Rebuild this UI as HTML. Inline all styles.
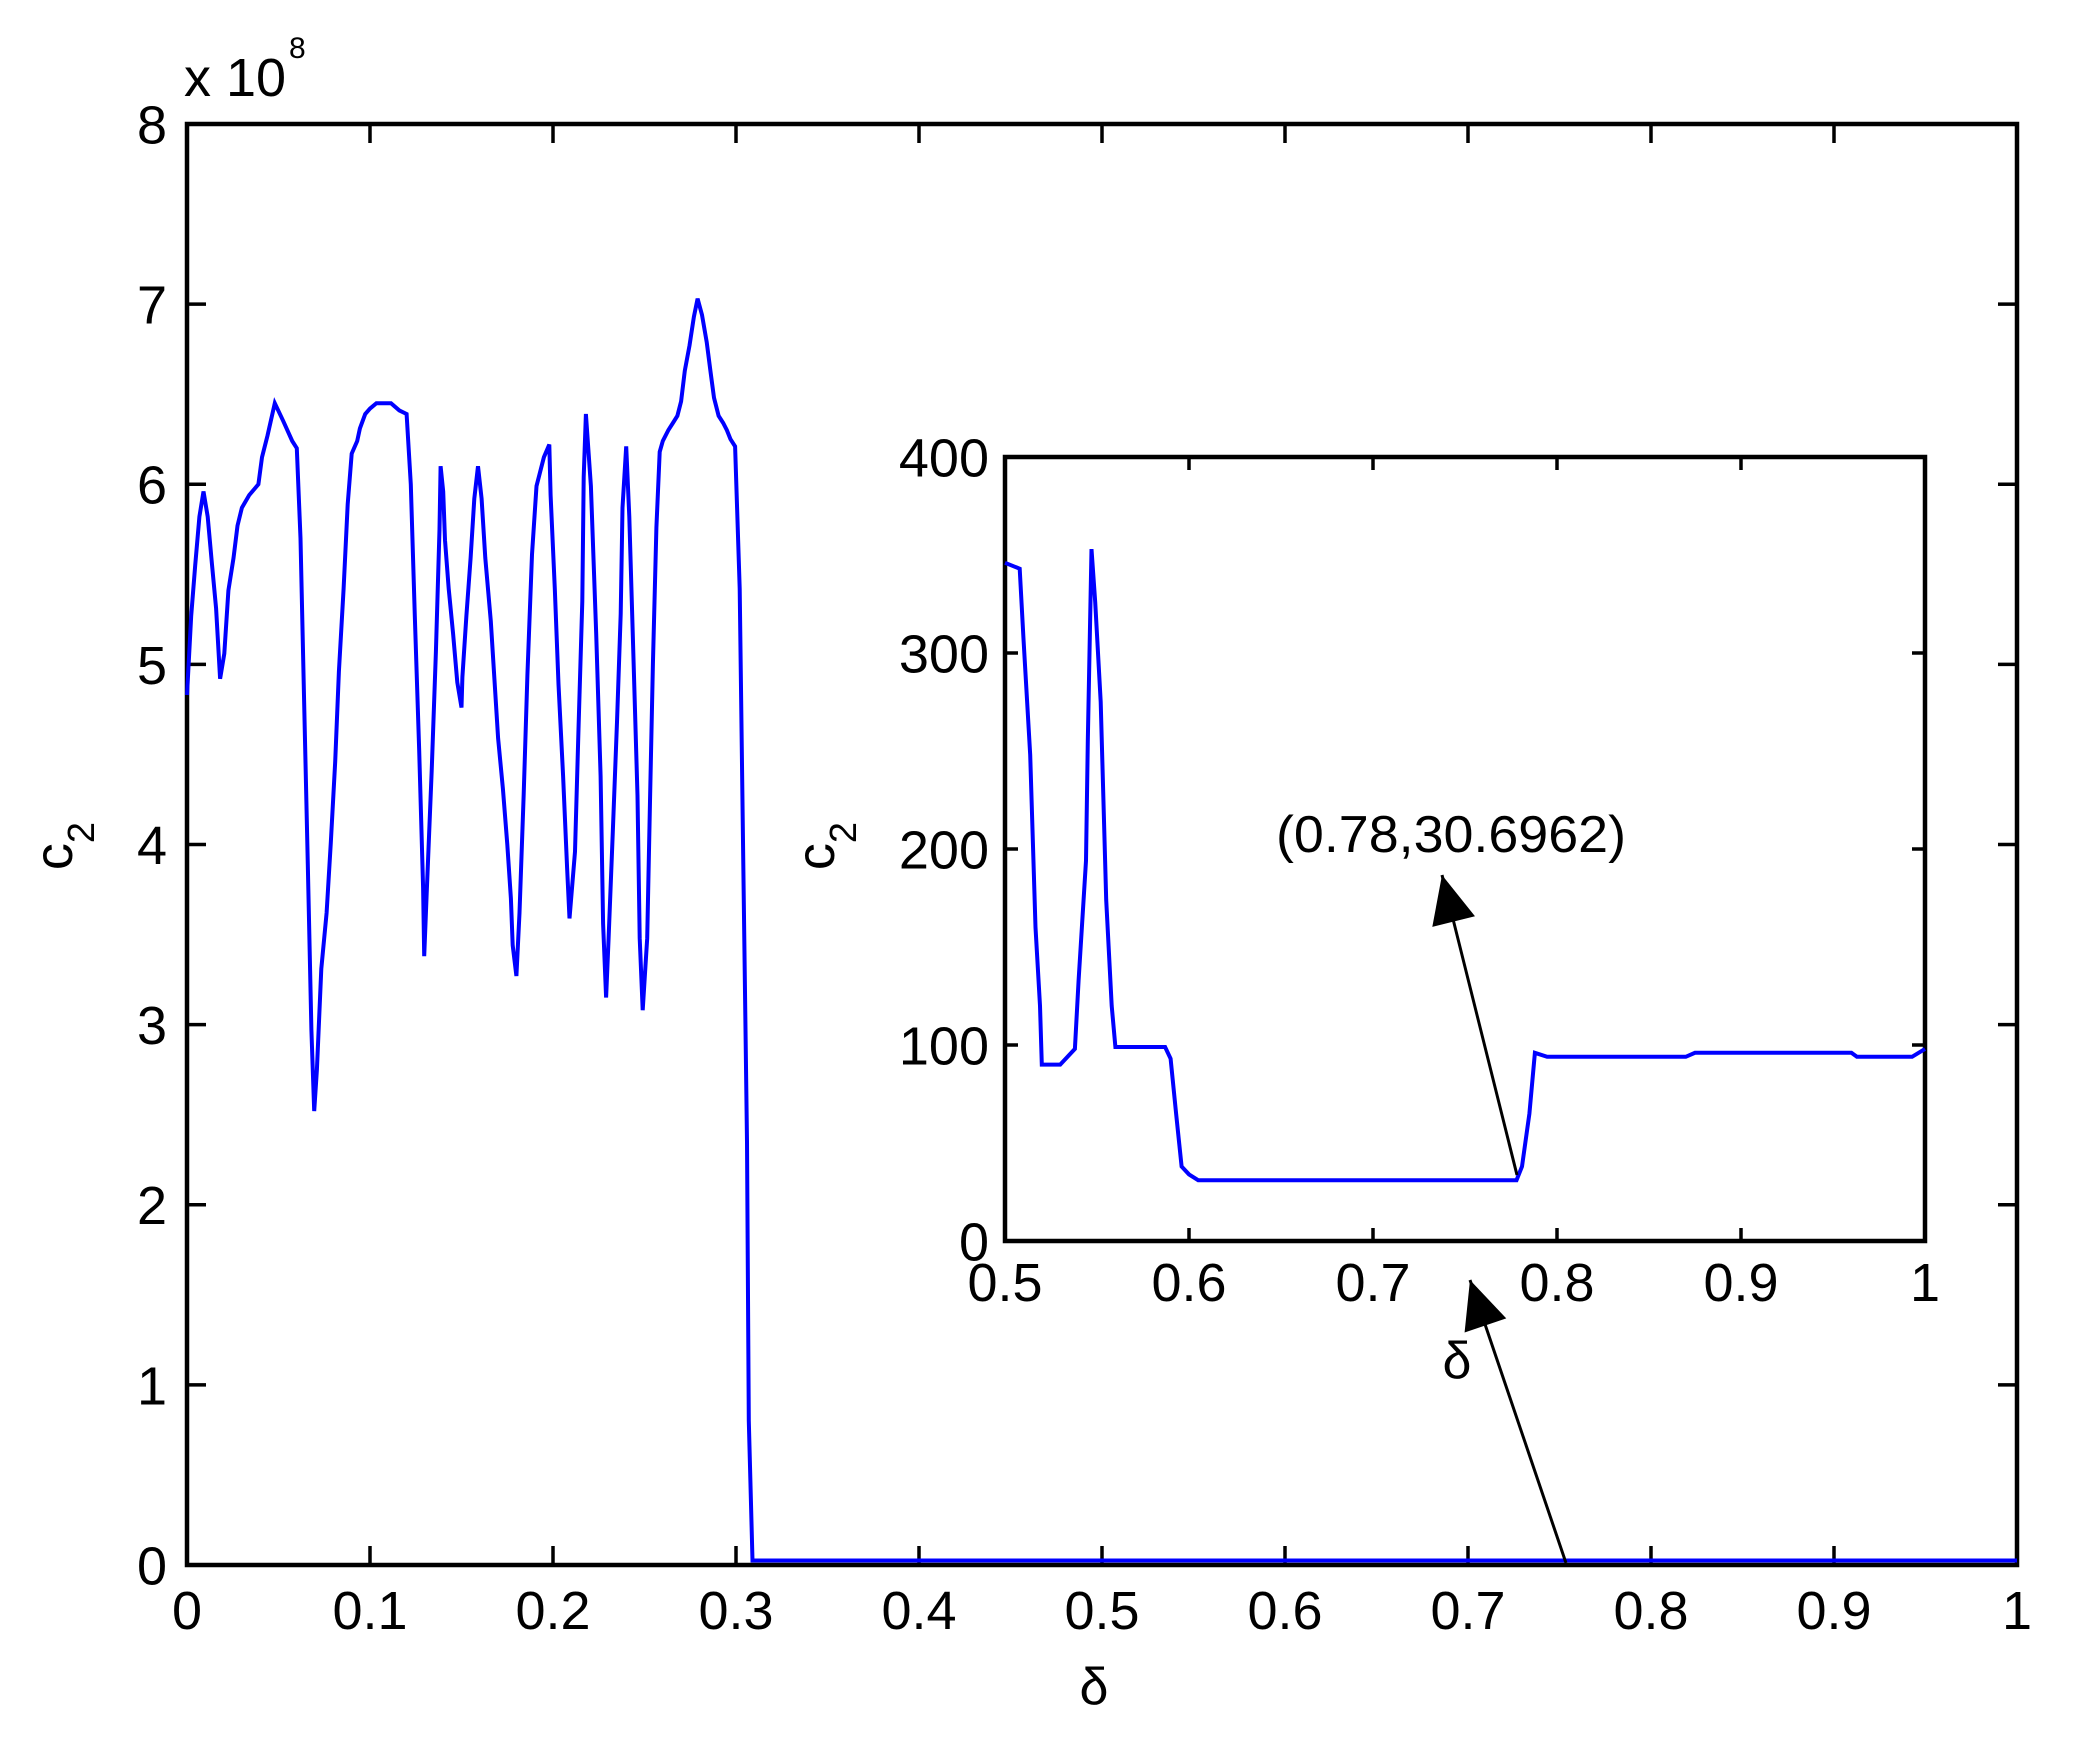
<!DOCTYPE html>
<html><head><meta charset="utf-8"><style>
html,body{margin:0;padding:0;background:#fff;}
svg{display:block;}
text{font-family:"Liberation Sans",Arial,sans-serif;fill:#000;}
</style></head><body>
<svg id="chart" width="2077" height="1764" viewBox="0 0 2077 1764" xmlns="http://www.w3.org/2000/svg">
<rect x="0" y="0" width="2077" height="1764" fill="#fff"/>
<g id="main"></g>
<g id="inset"></g>
<g id="annot"></g>
</svg>
<script>
// ---- main series (delta, c2 in units of 1e8) ----
const mainX = [0,.0023,.0045,.0068,.009,.0113,.0136,.0159,.0181,.0204,.0226,.0254,.0276,.03,.034,.039,.041,.044,.048,.0526,.0575,.06,.062,.064,.066,.068,.0695,.071,.0734,.0763,.0786,.081,.083,.0856,.0878,.09,.093,.0945,.0974,.1,.1035,.1115,.116,.12,.1223,.1245,.1269,.129,.1296,.131,.1337,.136,.138,.1386,.14,.141,.143,.1454,.1477,.15,.1505,.1527,.155,.157,.159,.161,.163,.166,.168,.170,.1726,.175,.177,.178,.18,.1817,.184,.186,.1885,.191,.193,.195,.198,.1987,.201,.203,.2055,.2077,.209,.212,.214,.216,.2168,.218,.2207,.2236,.226,.2274,.229,.2304,.2327,.235,.237,.238,.24,.2417,.244,.2462,.2474,.249,.2515,.253,.2546,.2565,.2583,.26,.263,.2655,.268,.27,.272,.2746,.277,.279,.2814,.284,.286,.288,.2905,.293,.295,.297,.2995,.302,.304,.306,.307,.309,.31,1];
const mainY = [4.83,5.27,5.55,5.82,5.96,5.82,5.56,5.31,4.92,5.06,5.41,5.59,5.77,5.87,5.94,6.0,6.15,6.27,6.45,6.35,6.24,6.2,5.70,4.80,3.89,2.97,2.52,2.75,3.31,3.62,4.01,4.46,4.96,5.42,5.89,6.17,6.24,6.31,6.39,6.42,6.45,6.45,6.41,6.39,6.0,5.27,4.52,3.76,3.38,3.73,4.41,5.07,5.75,6.1,5.96,5.69,5.42,5.17,4.90,4.76,4.93,5.27,5.59,5.92,6.1,5.92,5.59,5.24,4.92,4.59,4.31,4.0,3.70,3.44,3.27,3.62,4.28,4.94,5.61,5.99,6.07,6.15,6.22,5.94,5.42,4.89,4.38,3.87,3.59,3.96,4.66,5.35,6.04,6.39,5.99,5.17,4.38,3.56,3.15,3.48,4.07,4.68,5.28,5.87,6.21,5.82,5.03,4.27,3.48,3.08,3.48,4.24,5.0,5.76,6.18,6.24,6.30,6.34,6.38,6.46,6.63,6.77,6.93,7.03,6.94,6.79,6.63,6.48,6.38,6.34,6.30,6.25,6.21,5.42,3.89,2.35,0.8,0.025,0.025,0.025];
const mainXTicks = [0,0.1,0.2,0.3,0.4,0.5,0.6,0.7,0.8,0.9,1];
const mainXLabels = ["0","0.1","0.2","0.3","0.4","0.5","0.6","0.7","0.8","0.9","1"];
const mainYTicks = [0,1,2,3,4,5,6,7,8];
const mainYLabels = ["0","1","2","3","4","5","6","7","8"];
// ---- inset series ----
const insX = [.5,.508,.51,.5137,.5166,.519,.52,.53,.538,.54,.544,.545,.547,.549,.552,.555,.558,.56,.587,.59,.593,.596,.6,.605,.778,.781,.785,.788,.7946,.87,.875,.96,.963,.993,1];
const insY = [346,343,308,248,160,120,90,90,98,133,194,255,353,326,275,174,120,99,99,93,65,38,34,31,31,38,65,96,94,94,96,96,94,94,98];
const insXTicks = [0.5,0.6,0.7,0.8,0.9,1];
const insXLabels = ["0.5","0.6","0.7","0.8","0.9","1"];
const insYTicks = [0,100,200,300,400];
const insYLabels = ["0","100","200","300","400"];

const NS="http://www.w3.org/2000/svg";
function mk(parent,tag,attrs,txt){const e=document.createElementNS(NS,tag);for(const k in attrs)e.setAttribute(k,attrs[k]);if(txt!==undefined)e.textContent=txt;parent.appendChild(e);return e;}

function drawAxes(g, box, xd, yd, xt, xl, yt, yl, tickLen, fs, prefix, xs, ys){
  const sx=v=>box.l+(v-xd[0])/(xd[1]-xd[0])*(box.r-box.l);
  const sy=v=>box.b-(v-yd[0])/(yd[1]-yd[0])*(box.b-box.t);
  const fr=mk(g,'rect',{x:box.l,y:box.t,width:box.r-box.l,height:box.b-box.t,fill:'#fff',stroke:'#000','stroke-width':4.5});
  
  
  xt.forEach((v,i)=>{
    const x=sx(v);
    const t1=mk(g,'line',{x1:x,y1:box.b,x2:x,y2:box.b-tickLen,stroke:'#000','stroke-width':3.5});
    
    
    mk(g,'line',{x1:x,y1:box.t,x2:x,y2:box.t+tickLen,stroke:'#000','stroke-width':3.5});
    const tx=mk(g,'text',{x:x,y:box.b+xs,'font-size':fs,'text-anchor':'middle'},xl[i]);
    
    
  });
  yt.forEach((v,i)=>{
    const y=sy(v);
    const t1=mk(g,'line',{x1:box.l,y1:y,x2:box.l+tickLen,y2:y,stroke:'#000','stroke-width':3.5});
    
    
    mk(g,'line',{x1:box.r,y1:y,x2:box.r-tickLen,y2:y,stroke:'#000','stroke-width':3.5});
    const tx=mk(g,'text',{x:box.l-ys,y:y+fs*0.36,'font-size':fs,'text-anchor':'end'},yl[i]);
    
    
  });
  return {sx,sy};
}

// main
const gm=document.getElementById('main');
const mb={l:187,r:2017,t:124,b:1565};
const m=drawAxes(gm,mb,[0,1],[0,8],mainXTicks,mainXLabels,mainYTicks,mainYLabels,19,54,'main',64,20);
const mp=mk(gm,'polyline',{points:mainX.map((x,i)=>m.sx(x).toFixed(1)+','+m.sy(mainY[i]).toFixed(1)).join(' '),fill:'none',stroke:'#0000ff','stroke-width':4,'stroke-linejoin':'miter'});


let t;
t=mk(gm,'text',{x:1094,y:1704,'font-size':52,'text-anchor':'middle'},'δ');


t=mk(gm,'text',{x:0,y:0,'font-size':54,'text-anchor':'middle',transform:'translate(72,846) rotate(-90)'},'c');


mk(t,'tspan',{dy:22,'font-size':38},'2');
t=mk(gm,'text',{x:184,y:96,'font-size':54},'x 10');


mk(gm,'text',{x:289,y:58,'font-size':30},'8');

// inset
const gi=document.getElementById('inset');
const ib={l:1005,r:1925,t:457,b:1241};
const n=drawAxes(gi,ib,[0.5,1],[0,400],insXTicks,insXLabels,insYTicks,insYLabels,13,54,'inset',60,16);
const ip=mk(gi,'polyline',{points:insX.map((x,i)=>n.sx(x).toFixed(1)+','+n.sy(insY[i]).toFixed(1)).join(' '),fill:'none',stroke:'#0000ff','stroke-width':4});


t=mk(gi,'text',{x:1457,y:1378,'font-size':52,'text-anchor':'middle'},'δ');


t=mk(gi,'text',{x:0,y:0,'font-size':54,'text-anchor':'middle',transform:'translate(834,846) rotate(-90)'},'c');


mk(t,'tspan',{dy:22,'font-size':38},'2');

// annotations
const ga=document.getElementById('annot');
t=mk(ga,'text',{x:1276,y:852,'font-size':52,textLength:350,lengthAdjust:'spacingAndGlyphs'},'(0.78,30.6962)');


function arrow(x1,y1,x2,y2,name){
  const l=mk(ga,'line',{x1:x1,y1:y1,x2:x2,y2:y2,stroke:'#000','stroke-width':3});
  
  
  const a=Math.atan2(y2-y1,x2-x1),L=48,W=22;
  const bx=x2-L*Math.cos(a),by=y2-L*Math.sin(a);
  const px=-Math.sin(a)*W,py=Math.cos(a)*W;
  mk(ga,'polygon',{points:`${x2},${y2} ${bx+px},${by+py} ${bx-px},${by-py}`,fill:'#000'});
}
arrow(1517,1175,1442,875,'annotation-arrow');
arrow(1566,1563,1470,1280,'zoom-arrow');
</script>
</body></html>
